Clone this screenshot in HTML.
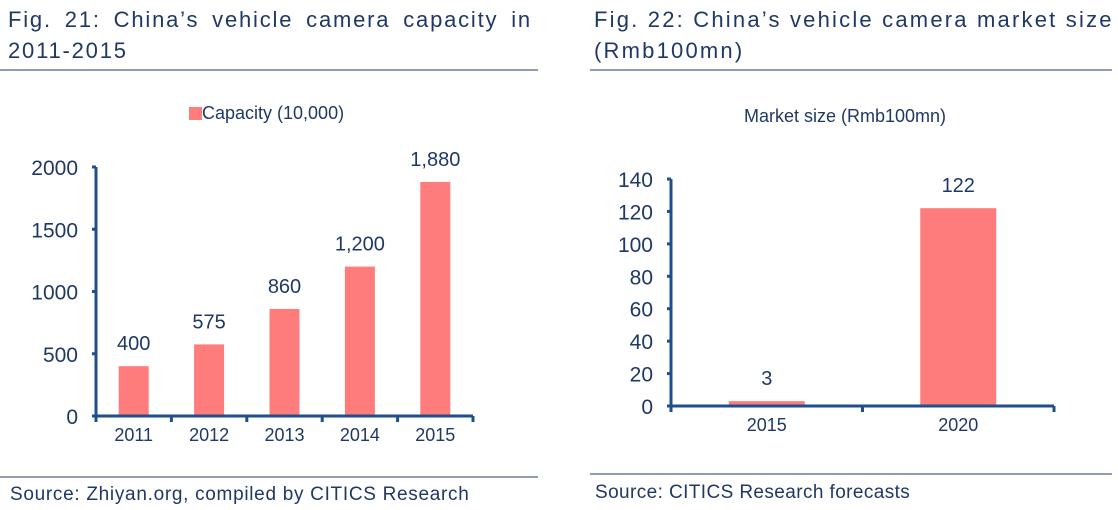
<!DOCTYPE html>
<html><head><meta charset="utf-8"><style>
body{margin:0;background:#fff;width:1118px;height:505px;overflow:hidden;font-family:"Liberation Sans",Arial,sans-serif}
svg text{font-family:"Liberation Sans",Arial,sans-serif}
</style></head><body>
<svg width="1118" height="505">
<g fill="#1f3864" font-size="22" letter-spacing="1.8">
<text x="8" y="27" word-spacing="5">Fig. 21: China’s vehicle camera capacity in</text>
<text x="8" y="58">2011-2015</text>
<line x1="0" y1="70" x2="538" y2="70" stroke="#1f3864" stroke-width="1"/>
<line x1="0" y1="477" x2="538" y2="477" stroke="#1f3864" stroke-width="1"/>
<text x="10" y="500" font-size="19" letter-spacing="0.7">Source: Zhiyan.org, compiled by CITICS Research</text>
</g>
<g fill="#1f3864" font-size="22" letter-spacing="2.2">
<text x="594" y="27">Fig. 22: China’s vehicle camera market size</text>
<text x="594" y="58">(Rmb100mn)</text>
<line x1="590" y1="70" x2="1112" y2="70" stroke="#1f3864" stroke-width="1"/>
<line x1="590" y1="474" x2="1112" y2="474" stroke="#1f3864" stroke-width="1"/>
<text x="595" y="498" font-size="19" letter-spacing="0.4">Source: CITICS Research forecasts</text>
</g>
<g id="c1"></g>
<g id="c2"></g>
</svg>
<script>
const capCategories=["2011","2012","2013","2014","2015"];
const capValues=[400,575,860,1200,1880];
const capLabels=["400","575","860","1,200","1,880"];
const capTicks=[0,500,1000,1500,2000];
const mktCategories=["2015","2020"];
const mktValues=[3,122];
const mktLabels=["3","122"];
const mktTicks=[0,20,40,60,80,100,120,140];
const NS="http://www.w3.org/2000/svg";
const AX="#1f4e8c",BAR="#ff7c7c",TXT="#1f3864";
function mk(p,t,a){const e=document.createElementNS(NS,t);for(const k in a)e.setAttribute(k,a[k]);p.appendChild(e);return e;}
function chart(g,o){
  const {x0,x1,y0,y1,max,cats,vals,labs,ticks,barW,fs,lfs}=o;
  const y=v=>y0-(v/max)*(y0-y1);
  const band=(x1-x0)/cats.length;
  const xc=i=>x0+band*(i+0.5);
  ticks.forEach(t=>{
    const tk=mk(g,'line',{x1:x0-4,x2:x0,y1:y(t),y2:y(t),stroke:AX,'stroke-width':3});
    
    
    const tl=mk(g,'text',{x:x0-18,y:y(t)+8,'text-anchor':'end','font-size':fs+1,fill:TXT});
    tl.textContent=t;
    
    
  });
  cats.forEach((c,i)=>{
    const b=mk(g,'rect',{x:xc(i)-barW/2,y:y(vals[i]),width:barW,height:y0-y(vals[i]),fill:BAR});
    
    
    const v=mk(g,'text',{x:xc(i),y:y(vals[i])-16,'text-anchor':'middle','font-size':fs,fill:TXT});
    v.textContent=labs[i];
    
    
    const xl=mk(g,'text',{x:xc(i),y:y0+25,'text-anchor':'middle','font-size':lfs,fill:TXT});
    xl.textContent=c;
    
    
  });
  for(let i=0;i<=cats.length;i++){
    const xt=mk(g,'line',{x1:x0+band*i,x2:x0+band*i,y1:y0,y2:y0+6,stroke:AX,'stroke-width':3});
    
    
  }
  const ya=mk(g,'line',{x1:x0,x2:x0,y1:y1,y2:y0+6,stroke:AX,'stroke-width':3});
  
  
  const xa=mk(g,'line',{x1:x0,x2:x1,y1:y0,y2:y0,stroke:AX,'stroke-width':3});
  
  
}
const g1=document.getElementById('c1'),g2=document.getElementById('c2');
chart(g1,{x0:96,x1:473,y0:416,y1:167,max:2000,cats:capCategories,vals:capValues,labs:capLabels,ticks:capTicks,barW:30,fs:20,lfs:18});
chart(g2,{x0:671,x1:1054,y0:406,y1:179,max:140,cats:mktCategories,vals:mktValues,labs:mktLabels,ticks:mktTicks,barW:76,fs:20,lfs:18});
const lr=mk(g1,'rect',{x:189,y:107,width:13,height:13,fill:BAR});


const lt=mk(g1,'text',{x:202,y:119,'font-size':18,fill:TXT});
lt.textContent='Capacity (10,000)';


const t2=mk(g2,'text',{x:845,y:122,'text-anchor':'middle','font-size':18,fill:TXT});
t2.textContent='Market size (Rmb100mn)';


</script>
</body></html>
